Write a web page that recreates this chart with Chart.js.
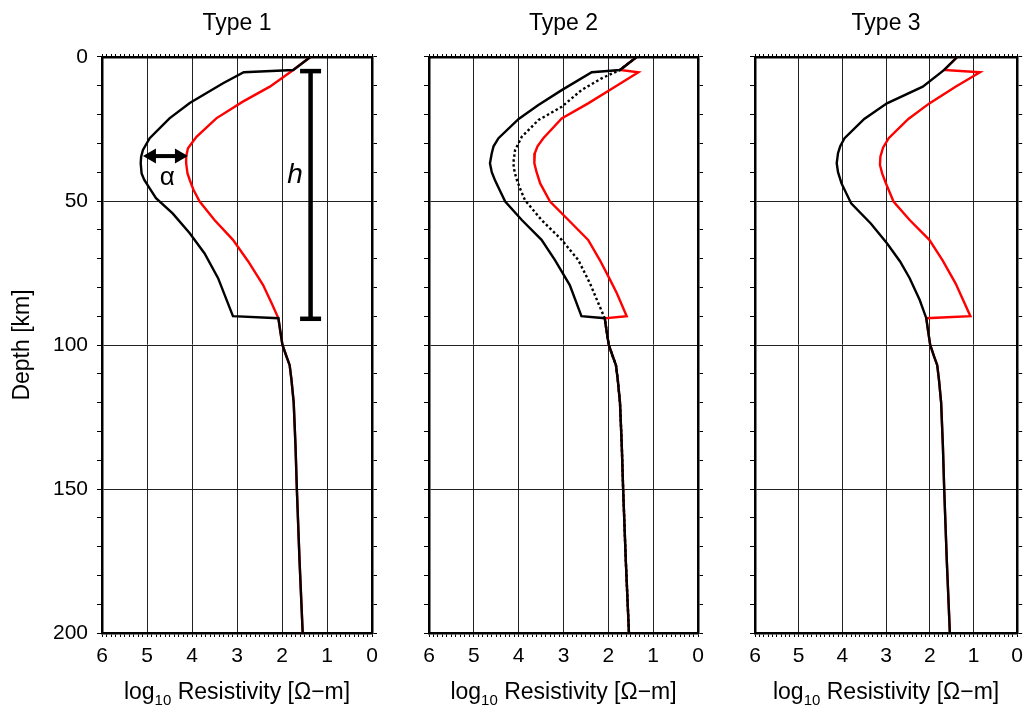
<!DOCTYPE html>
<html lang="en">
<head>
<meta charset="UTF-8">
<title>Resistivity profile types</title>
<script src="https://cdn.jsdelivr.net/npm/chart.js"></script>
<style>
  body { margin: 0; background: #fff; }
  #wrap { position: relative; width: 1030px; height: 706px; }
  canvas { position: absolute; top: 0; }
</style>
</head>
<body>
<div id="wrap">
  <canvas id="type1" width="400" height="706" style="left:0px"></canvas>
  <canvas id="type2" width="320" height="706" style="left:400px"></canvas>
  <canvas id="type3" width="310" height="706" style="left:720px"></canvas>
</div>
<script>
// axis ranges / tick labels
const resTicks = [6, 5, 4, 3, 2, 1, 0];
const depthTicks = [0, 50, 100, 150, 200];

// deep part shared by every profile (below the kink at ~91 km)
const deepDepth = [90.7, 95, 100, 104, 107, 112, 120, 135, 150, 175, 200];
const deepRes   = [2.08, 2.04, 1.99, 1.90, 1.83, 1.79, 1.74, 1.70, 1.67, 1.61, 1.54];

// Type 1
const type1ModelDepth = [0, 4.5, 5.3, 9.1, 16, 21.3, 28.2, 32.3, 34.6, 36.9, 40.4, 42.7, 45.6, 49, 54.3, 61.2, 68.2, 76.8, 90];
const type1ModelRes   = [1.37, 1.75, 2.85, 3.31, 4.05, 4.5, 4.94, 5.09, 5.13, 5.14, 5.12, 5.06, 4.94, 4.8, 4.43, 4.05, 3.72, 3.42, 3.09];
const type1RefDepth = [0, 4.5, 10.3, 15.5, 21.3, 27.7, 31.7, 34.6, 36.9, 40.4, 42.7, 46, 50.2, 56.6, 63.5, 71, 79.2, 85.5];
const type1RefRes   = [1.37, 1.75, 2.27, 2.87, 3.46, 3.9, 4.09, 4.13, 4.13, 4.1, 4.05, 3.97, 3.83, 3.5, 3.09, 2.75, 2.42, 2.23];

// Type 2
const type2ModelDepth = [0, 4.5, 5.3, 11.5, 16.7, 21.5, 28.2, 31, 33.4, 36.9, 40, 42.7, 46, 50.2, 56.6, 63.5, 70.5, 79.2, 90];
const type2ModelRes   = [1.37, 1.74, 2.37, 3.04, 3.56, 4.0, 4.45, 4.56, 4.6, 4.64, 4.6, 4.53, 4.43, 4.3, 3.93, 3.49, 3.19, 2.86, 2.6];
const type2MidDepth = [0, 4.5, 7.4, 11.5, 17.3, 21.9, 27.7, 32.3, 36.9, 40, 42.7, 46, 49.7, 56.6, 63.5, 70.5, 78.6, 86.7];
const type2MidRes   = [1.37, 1.74, 2.15, 2.6, 3.04, 3.56, 3.93, 4.08, 4.12, 4.09, 4.04, 3.96, 3.86, 3.49, 3.04, 2.67, 2.41, 2.19];
const type2RefDepth = [0, 4.5, 5.3, 10.3, 16.1, 21.3, 28.2, 31, 33.4, 36.9, 40, 43.9, 50.2, 56.6, 63.5, 70.5, 77.4, 82, 90];
const type2RefRes   = [1.37, 1.74, 1.33, 1.85, 2.45, 3.04, 3.45, 3.58, 3.64, 3.65, 3.6, 3.52, 3.3, 2.89, 2.45, 2.19, 1.96, 1.81, 1.59];

// Type 3
const type3ModelDepth = [0, 4.5, 10.3, 16.1, 21.5, 28.2, 31, 33.4, 36.9, 40, 43.9, 50.8, 57.8, 64.7, 71, 76.8, 84.4];
const type3ModelRes   = [1.37, 1.67, 2.16, 2.98, 3.5, 3.95, 4.05, 4.1, 4.13, 4.1, 4.02, 3.8, 3.35, 2.98, 2.68, 2.46, 2.23];
const type3RefDepth = [0, 4.5, 5.3, 10.3, 16.1, 21.5, 28.2, 31.5, 34.6, 37.5, 40.4, 44, 50.2, 56.6, 63.5, 70.5, 78.6, 90];
const type3RefRes   = [1.37, 1.67, 0.85, 1.41, 2.01, 2.49, 2.94, 3.07, 3.13, 3.14, 3.09, 3.0, 2.83, 2.46, 2.01, 1.71, 1.41, 1.07];

// annotations on Type 1 (data units)
const alphaRes = [5.09, 4.09];
const alphaDepth = 34.4;
const alphaLabel = { res: 4.55, depth: 44.4 };
const hBarRes = 1.365;
const hBarDepth = [4.9, 90.9];
const hLabel = { res: 1.71, depth: 43.9 };

Chart.defaults.font.family = "'Liberation Sans', Arial, Helvetica, sans-serif";
Chart.defaults.color = '#000';

const gridColor = '#222';
const isWhole = v => Math.abs(v - Math.round(v)) < 1e-6;

function toPoints(res, depth) {
    return res.map((r, i) => ({ x: r, y: depth[i] }));
}
function profile(res, depth) {
    return toPoints(res.concat(deepRes), depth.concat(deepDepth));
}
function lineSet(data, color, dash) {
    return {
        data: data,
        showLine: true,
        borderColor: color,
        borderWidth: 2.4,
        borderDash: dash || [],
        pointRadius: 0,
        tension: 0
    };
}

// x axis title with a real subscript
const xTitle = {
    id: 'xTitle',
    afterDraw(chart) {
        const { ctx, chartArea } = chart;
        const fam = Chart.defaults.font.family;
        const big = '23px ' + fam, small = '15px ' + fam;
        const parts = [['log', big, 0], ['10', small, 6], [' Resistivity [\u03A9\u2212m]', big, 0]];
        ctx.save();
        let w = 0;
        parts.forEach(p => { ctx.font = p[1]; w += ctx.measureText(p[0]).width; });
        let x = (chartArea.left + chartArea.right) / 2 - w / 2;
        const base = 699;
        ctx.fillStyle = '#000';
        ctx.textBaseline = 'alphabetic';
        ctx.textAlign = 'left';
        parts.forEach(p => {
            ctx.font = p[1];
            ctx.fillText(p[0], x, base + p[2]);
            x += ctx.measureText(p[0]).width;
        });
        ctx.restore();
    }
};

// alpha arrow and the two symbols of panel 1
const annotate = {
    id: 'annotate',
    afterDatasetsDraw(chart) {
        const { ctx, scales: { x, y } } = chart;
        const fam = Chart.defaults.font.family;
        const yy = y.getPixelForValue(alphaDepth);
        const xa = x.getPixelForValue(alphaRes[0]);
        const xb = x.getPixelForValue(alphaRes[1]);
        const dir = Math.sign(xb - xa);
        const head = 13, half = 7.5;
        ctx.save();
        ctx.strokeStyle = '#000';
        ctx.fillStyle = '#000';
        ctx.lineWidth = 4;
        ctx.beginPath();
        ctx.moveTo(xa + dir * (head - 2), yy);
        ctx.lineTo(xb - dir * (head - 2), yy);
        ctx.stroke();
        [[xa, dir], [xb, -dir]].forEach(([tip, d]) => {
            ctx.beginPath();
            ctx.moveTo(tip, yy);
            ctx.lineTo(tip + d * head, yy - half);
            ctx.lineTo(tip + d * head, yy + half);
            ctx.closePath();
            ctx.fill();
        });
        ctx.textAlign = 'center';
        ctx.textBaseline = 'alphabetic';
        ctx.font = '26px ' + fam;
        ctx.fillText('\u03B1', x.getPixelForValue(alphaLabel.res), y.getPixelForValue(alphaLabel.depth));
        ctx.font = 'italic 28px ' + fam;
        ctx.fillText('h', x.getPixelForValue(hLabel.res), y.getPixelForValue(hLabel.depth));
        ctx.restore();
    }
};

function makePanel(id, title, datasets, leftWidth, rightWidth, showDepth, extraPlugins) {
    const frame = { color: '#000', width: 2.5 };
    return new Chart(document.getElementById(id), {
        type: 'scatter',
        data: { datasets: datasets },
        options: {
            responsive: false,
            animation: false,
            layout: { padding: 0 },
            plugins: {
                legend: { display: false },
                tooltip: { enabled: false },
                title: {
                    display: true,
                    text: title,
                    fullSize: false,
                    color: '#000',
                    font: { size: 23, weight: 'normal' },
                    padding: { top: 10, bottom: 0 }
                }
            },
            scales: {
                x: {
                    type: 'linear', min: resTicks[resTicks.length - 1], max: resTicks[0], reverse: true,
                    ticks: {
                        stepSize: 0.1, autoSkip: false, maxRotation: 0, padding: 7,
                        font: { size: 21 },
                        callback: v => isWhole(v) && resTicks.includes(Math.round(v)) ? String(Math.round(v)) : ''
                    },
                    grid: {
                        color: c => c.tick && isWhole(c.tick.value) ? gridColor : 'transparent',
                        tickColor: '#000', tickLength: 4, lineWidth: 1
                    },
                    border: frame,
                    afterFit: s => { s.height = 73; }
                },
                y: {
                    type: 'linear', min: depthTicks[0], max: depthTicks[depthTicks.length - 1], reverse: true,
                    ticks: {
                        stepSize: 10, autoSkip: false, display: showDepth, padding: 9,
                        font: { size: 21 },
                        callback: v => depthTicks.includes(v) ? String(v) : ''
                    },
                    grid: {
                        color: c => c.tick && depthTicks.includes(c.tick.value) ? gridColor : 'transparent',
                        tickColor: '#000', tickLength: 5, lineWidth: 1
                    },
                    border: frame,
                    title: {
                        display: showDepth, text: 'Depth [km]', color: '#000',
                        font: { size: 23 }, padding: { top: 9, bottom: 0 }
                    },
                    afterFit: s => { s.width = leftWidth; }
                },
                xTop: {
                    type: 'linear', position: 'top', min: 0, max: 6, reverse: true,
                    ticks: { display: false, stepSize: 0.1, autoSkip: false },
                    grid: { drawOnChartArea: false, color: '#000', tickColor: '#000', tickLength: 3 },
                    border: frame,
                    afterFit: s => { s.height = 19.4; }
                },
                yR: {
                    type: 'linear', position: 'right', min: 0, max: 200, reverse: true,
                    ticks: { display: false, stepSize: 10, autoSkip: false },
                    grid: { drawOnChartArea: false, color: '#000', tickColor: '#000', tickLength: 5 },
                    border: frame,
                    afterFit: s => { s.width = rightWidth; }
                }
            }
        },
        plugins: [xTitle].concat(extraPlugins || [])
    });
}

// black first so it is drawn on top
makePanel('type1', 'Type 1', [
    lineSet(profile(type1ModelRes, type1ModelDepth), '#000'),
    lineSet(profile(type1RefRes, type1RefDepth), '#ff0000'),
    {
        data: [{ x: hBarRes, y: hBarDepth[0] }, { x: hBarRes, y: hBarDepth[1] }],
        showLine: true, borderColor: '#000', borderWidth: 4.5,
        pointStyle: 'line', pointRadius: 10.5, pointBorderWidth: 4.5, pointBorderColor: '#000'
    }
], 102, 28, true, [annotate]);

makePanel('type2', 'Type 2', [
    lineSet(profile(type2ModelRes, type2ModelDepth), '#000'),
    lineSet(profile(type2MidRes, type2MidDepth), '#000', [2.5, 2.5]),
    lineSet(profile(type2RefRes, type2RefDepth), '#ff0000')
], 29, 22, false);

makePanel('type3', 'Type 3', [
    lineSet(profile(type3ModelRes, type3ModelDepth), '#000'),
    lineSet(profile(type3RefRes, type3RefDepth), '#ff0000')
], 35, 7, false);
</script>
</body>
</html>
